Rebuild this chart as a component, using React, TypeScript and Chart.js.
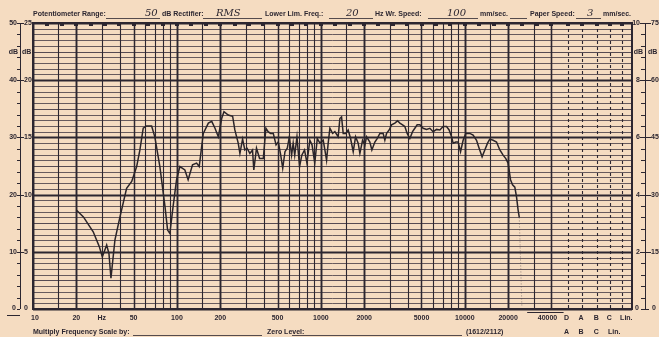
import React, { useEffect, useRef } from "react";
import { Chart, registerables } from "chart.js";
Chart.register(...registerables);

// ---- data ----
const responseFreqHz = [
  20, 22.4, 26.2, 28.9, 30.3, 32.5, 33.7, 34.8, 37.1, 40.2, 44.7, 48.5, 52.5, 55.3, 58.3, 61.5, 66.7, 70.2,
  76.1, 82.6, 86.1, 89.3, 94.0, 99.4, 104.8, 113.5, 119.6, 128.3, 136.9, 142.8, 152.4, 165.3, 174.4, 183.8,
  193.9, 204.5, 212.2, 227.2, 243.7, 252.5, 266.5, 273.8, 285.8, 296.2, 307.2, 321, 335, 342, 357, 375, 398,
  415, 430, 447, 467, 488, 506, 526, 543, 563, 584, 604, 626, 642, 658, 682, 711, 737, 770, 800, 838, 868,
  907, 944, 985, 1038, 1066, 1095, 1124, 1155, 1206, 1251, 1319, 1355, 1392, 1429, 1491, 1547, 1608, 1677,
  1742, 1816, 1866, 1948, 2022, 2077, 2189, 2260, 2371, 2460, 2569, 2708, 2782, 2860, 2982, 3097, 3265,
  3409, 3537, 3693, 3831, 3976, 4150, 4334, 4496, 4665, 4870, 5134, 5420, 5715, 6025, 6362, 6707, 7071,
  7463, 7780, 8085, 8295, 8660, 8985, 9336, 9731, 10160, 10830, 11420, 12060, 12570, 13180, 13770, 14380,
  14910, 15720, 16600, 17510, 18450, 19270, 19980, 20770, 21450, 22250, 22860, 23450, 23900,
];
const responseDb = [
  17.3, 16.1, 13.5, 10.9, 9.1, 11.2, 9.7, 5.4, 12.1, 16.1, 21.1, 22.3, 24.9, 27.8, 31.6, 32.0, 32.0, 30.1,
  24.9, 17.9, 13.8, 13.2, 17.9, 22.6, 24.9, 24.3, 22.6, 25.2, 25.5, 24.9, 30.7, 32.5, 32.8, 31.6,
  30.1, 33.3, 34.5, 33.9, 33.7, 31.3, 29.0, 27.2, 29.7, 27.8, 28.1, 27.2, 27.8, 24.3, 28.1, 26.3, 26.3,
  31.6, 31.0, 30.7, 30.7, 28.7, 29.2, 26.9, 24.6, 27.5, 28.1, 30.1, 26.9, 29.0, 26.9, 30.1, 24.9, 26.9, 27.8, 25.5, 29.5, 28.7,
  25.5, 29.8, 29.0, 29.5, 27.8, 26.0, 29.0, 31.6, 30.7, 31.0, 30.1, 33.3, 33.6, 30.7, 30.7, 31.3, 29.8, 27.5,
  30.1, 29.0, 27.2, 29.5, 28.7, 30.1, 29.2, 27.8, 29.2, 29.8, 30.7, 30.7, 29.5, 30.7, 31.3, 32.2, 32.5,
  32.9, 32.5, 32.2, 31.9, 30.7, 29.8, 31.0, 31.6, 32.2, 32.2, 31.6, 31.4, 31.6, 31.0, 31.4, 31.3, 31.9,
  31.9, 31.3, 30.1, 29.0, 29.2, 29.2, 27.5, 29.5, 30.7, 30.7, 30.4, 29.5, 28.1, 26.6, 27.8, 29.0,
  29.7, 29.5, 29.2, 27.8, 26.9, 26.3, 25.5, 22.6, 21.7, 21.3, 19.6, 17.3, 16.0,
];
// faint dotted pen return at the end of the sweep
const tailFreqHz = [23900, 24900];
const tailDb = [16.0, 0.5];

// ---- paper scale texts ----
const freqTickValues = [10, 20, 30, 50, 100, 200, 500, 1000, 2000, 5000, 10000, 20000, 40000];
const freqTickLabels = ["10", "20", "Hz", "50", "100", "200", "500", "1000", "2000", "5000", "10000", "20000", "40000"];
const gridMultipliers = [1, 1.5, 2, 3, 4, 5, 6, 7, 8, 9];
const gridDecades = [10, 100, 1000, 10000];
const weightingTop = ["D", "A", "B", "C", "Lin."];
const weightingBottom = ["A", "B", "C", "Lin."];
const majorDb = [0, 10, 20, 30, 40, 50];
const leftOuterLabels = ["0", "10", "20", "30", "40", "50"];
const leftInnerLabels = ["0", "5", "10", "15", "20", "25"];
const rightInnerLabels = ["0", "2", "4", "6", "8", "10"];
const rightOuterLabels = ["0", "15", "30", "45", "60", "75"];

const PAPER = "#f5dcc1";
const INK = "#2c2630";
const GRID = "rgba(58,48,62,0.85)";

const paperPlugin = {
  id: "paper",
  beforeDraw(chart: any) {
    const { ctx, chartArea: ca } = chart;
    const xs = chart.scales.x;
    const ys = chart.scales.y;
    ctx.save();
    ctx.fillStyle = PAPER;
    ctx.fillRect(0, 0, chart.width, chart.height);

    const x40k = xs.getPixelForValue(40000);
    const colFrac = [0.2, 0.38, 0.57, 0.73, 0.88];
    const colX = colFrac.map((f) => x40k + (ca.right - x40k) * f);

    // horizontal dB lines
    for (let db = 0; db <= 50; db++) {
      const y = Math.round(ys.getPixelForValue(db)) + 0.5;
      ctx.beginPath();
      ctx.strokeStyle = db % 10 === 0 ? INK : GRID;
      ctx.lineWidth = db % 10 === 0 ? 1.8 : db % 5 === 0 ? 1.1 : 0.9;
      ctx.moveTo(ca.left, y);
      ctx.lineTo(ca.right, y);
      ctx.stroke();
    }
    // vertical frequency lines
    gridDecades.forEach((d) => {
      gridMultipliers.forEach((m) => {
        const f = d * m;
        if (f > 40000) return;
        const x = Math.round(xs.getPixelForValue(f)) + 0.5;
        ctx.beginPath();
        ctx.strokeStyle = INK;
        ctx.lineWidth = m === 1 || m === 2 ? 1.9 : m === 5 ? 1.5 : 1.1;
        ctx.moveTo(x, ca.top);
        ctx.lineTo(x, ca.bottom);
        ctx.stroke();
      });
    });
    {
      const x = Math.round(x40k) + 0.5;
      ctx.beginPath();
      ctx.lineWidth = 1.5;
      ctx.moveTo(x, ca.top);
      ctx.lineTo(x, ca.bottom);
      ctx.stroke();
    }
    // dashed weighting columns
    ctx.setLineDash([3, 3]);
    ctx.lineWidth = 1.1;
    colX.forEach((cx) => {
      const x = Math.round(cx) + 0.5;
      ctx.beginPath();
      ctx.moveTo(x, ca.top);
      ctx.lineTo(x, ca.bottom);
      ctx.stroke();
    });
    ctx.setLineDash([]);
    // frame
    ctx.lineWidth = 2;
    ctx.strokeStyle = INK;
    ctx.strokeRect(ca.left, ca.top, ca.right - ca.left, ca.bottom - ca.top);

    // top marks at third-octave positions
    ctx.fillStyle = INK;
    for (let k = 1; k <= 36; k++) {
      const x = xs.getPixelForValue(10 * Math.pow(10, k / 10));
      ctx.fillRect(Math.round(x) - 2, ca.top, 4, 3);
    }
    colX.forEach((cx) => ctx.fillRect(Math.round(cx) - 2, ca.top, 4, 3));

    // left axis
    const lx = ca.left - 13;
    const rx = ca.right + 13;
    ctx.strokeStyle = INK;
    ctx.lineWidth = 1;
    ctx.beginPath();
    ctx.moveTo(lx + 0.5, ca.top);
    ctx.lineTo(lx + 0.5, ca.bottom);
    ctx.moveTo(rx + 0.5, ca.top);
    ctx.lineTo(rx + 0.5, ca.bottom);
    for (let db = 0; db <= 50; db += 2) {
      const y = Math.round(ys.getPixelForValue(db)) + 0.5;
      ctx.moveTo(lx - 3, y);
      ctx.lineTo(lx, y);
      ctx.moveTo(rx - 4, y);
      ctx.lineTo(rx, y);
    }
    ctx.stroke();

    ctx.font = "bold 7px 'Liberation Sans', Arial, sans-serif";
    ctx.textBaseline = "middle";
    ctx.fillStyle = INK;
    majorDb.forEach((db, i) => {
      const y = ys.getPixelForValue(db);
      if (db === 0) {
        ctx.textAlign = "right";
        ctx.fillText(leftOuterLabels[i], lx - 4, y - 1);
        ctx.textAlign = "left";
        ctx.fillText(leftInnerLabels[i], lx + 4, y - 1);
        ctx.textAlign = "right";
        ctx.fillText(rightInnerLabels[i], rx - 6, y - 1);
        ctx.textAlign = "left";
        ctx.fillText(rightOuterLabels[i], rx + 7, y - 1);
        ctx.beginPath();
        ctx.lineWidth = 1;
        ctx.moveTo(lx - 13, y + 6.5);
        ctx.lineTo(lx, y + 6.5);
        ctx.moveTo(rx - 3, y + 0.5);
        ctx.lineTo(rx + 4, y + 0.5);
        ctx.stroke();
        return;
      }
      ctx.beginPath();
      ctx.lineWidth = 1;
      ctx.moveTo(lx - 3, Math.round(y) + 0.5);
      ctx.lineTo(lx + 4, Math.round(y) + 0.5);
      ctx.moveTo(rx - 5, Math.round(y) + 0.5);
      ctx.lineTo(rx + 6, Math.round(y) + 0.5);
      ctx.stroke();
      ctx.textAlign = "right";
      ctx.fillText(leftOuterLabels[i], lx - 3, y);
      ctx.textAlign = "left";
      ctx.fillText(leftInnerLabels[i], lx + 4, y);
      ctx.textAlign = "right";
      ctx.fillText(rightInnerLabels[i], rx - 5, y);
      ctx.textAlign = "left";
      ctx.fillText(rightOuterLabels[i], rx + 6, y);
    });
    const yDb = ys.getPixelForValue(45);
    ctx.textAlign = "right";
    ctx.fillText("dB", lx - 2, yDb);
    ctx.fillText("dB", rx - 2, yDb);
    ctx.textAlign = "left";
    ctx.fillText("dB", lx + 2, yDb);
    ctx.fillText("dB", rx + 3, yDb);

    // frequency labels
    const yLab = ca.bottom + 9;
    ctx.textAlign = "center";
    freqTickValues.forEach((f, i) => {
      let x = xs.getPixelForValue(f);
      if (i === 0) x += 2;
      if (f === 40000) x -= 4;
      ctx.fillText(freqTickLabels[i], x, yLab);
    });
    ctx.beginPath();
    ctx.lineWidth = 1;
    ctx.moveTo(xs.getPixelForValue(20000) + 19, ca.bottom + 3.5);
    ctx.lineTo(colX[0] - 4, ca.bottom + 3.5);
    ctx.stroke();
    weightingTop.forEach((t, i) => ctx.fillText(t, colX[i] + (i === 4 ? 4 : -1), yLab));
    const yBot = ca.bottom + 23;
    weightingBottom.forEach((t, i) => ctx.fillText(t, colX[i] + (i === 3 ? 4 : -1), yBot));

    // footer
    ctx.textAlign = "left";
    ctx.fillText("Multiply Frequency Scale by:", ca.left, yBot);
    ctx.fillText("Zero Level:", 267, yBot);
    ctx.fillText("(1612/2112)", 466, yBot);
    ctx.beginPath();
    ctx.lineWidth = 0.8;
    ctx.moveTo(133, yBot + 3.5);
    ctx.lineTo(262, yBot + 3.5);
    ctx.moveTo(292, yBot + 3.5);
    ctx.lineTo(462, yBot + 3.5);
    ctx.stroke();

    // header
    const yHead = 14;
    ctx.fillText("Potentiometer Range:", ca.left, yHead);
    ctx.fillText("dB Rectifier:", 162, yHead);
    ctx.fillText("Lower Lim. Freq.:", 265, yHead);
    ctx.fillText("Hz Wr. Speed:", 375, yHead);
    ctx.fillText("mm/sec.", 480, yHead);
    ctx.fillText("Paper Speed:", 530, yHead);
    ctx.fillText("mm/sec.", 603, yHead);
    ctx.beginPath();
    ctx.lineWidth = 0.8;
    [[106, 160], [203, 262], [329, 373], [428, 478], [510, 527], [576, 601]].forEach(([a, b]) => {
      ctx.moveTo(a, yHead + 4.5);
      ctx.lineTo(b, yHead + 4.5);
    });
    ctx.stroke();
    ctx.font = "italic 10px 'DejaVu Serif', serif";
    ctx.fillText("50", 145, yHead - 1);
    ctx.fillText("RMS", 216, yHead - 1);
    ctx.fillText("20", 346, yHead - 1);
    ctx.fillText("100", 447, yHead - 1);
    ctx.fillText("3", 587, yHead - 1);
    ctx.restore();
  },
};

export default function App() {
  const ref = useRef<HTMLCanvasElement | null>(null);
  useEffect(() => {
    if (!ref.current) return;
    const chart = new Chart(ref.current, {
      type: "line",
      data: {
        datasets: [
          {
            data: responseFreqHz.map((f, i) => ({ x: f, y: responseDb[i] })),
            borderColor: "#2a2429",
            borderWidth: 1.5,
            pointRadius: 0,
            tension: 0,
          },
          {
            data: tailFreqHz.map((f, i) => ({ x: f, y: tailDb[i] })),
            borderColor: "rgba(70,60,70,0.55)",
            borderWidth: 1,
            borderDash: [1, 2],
            pointRadius: 0,
            tension: 0,
          },
        ],
      },
      options: {
        animation: false,
        responsive: false,
        maintainAspectRatio: false,
        layout: { padding: { left: 33, right: 27, top: 23, bottom: 28 } },
        plugins: { legend: { display: false }, tooltip: { enabled: false } },
        scales: {
          x: { type: "logarithmic", min: 10, max: 145000, display: false },
          y: { type: "linear", min: 0, max: 50, display: false },
        },
      },
      plugins: [paperPlugin],
    });
    return () => chart.destroy();
  }, []);
  return (
    <div style={{ position: "absolute", left: 0, top: 0, width: 659, height: 337 }}>
      <canvas ref={ref} width={659} height={337} style={{ display: "block", width: 659, height: 337 }} />
    </div>
  );
}
